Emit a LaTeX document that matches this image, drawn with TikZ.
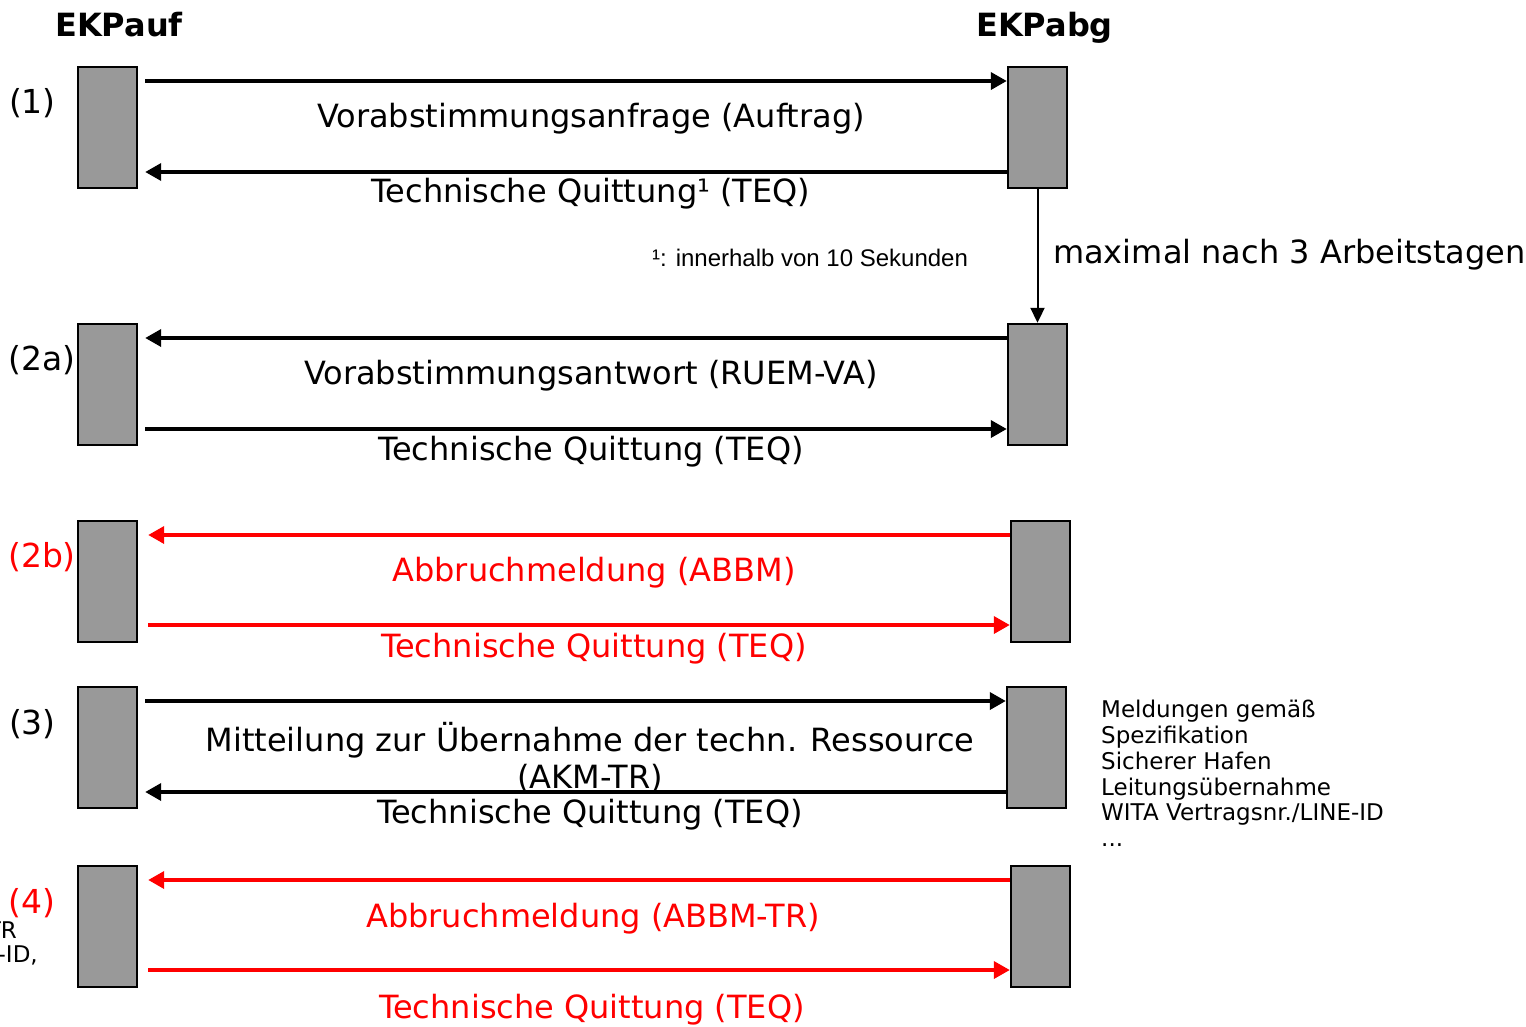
\documentclass[tikz,border=0pt]{standalone}
\usepackage{fontspec}
\setmainfont{DejaVu Sans}
\newfontfamily\arialf{Liberation Sans}
\usetikzlibrary{arrows.meta}
\definecolor{boxgray}{HTML}{999999}
\definecolor{redc}{HTML}{FF0000}
\begin{document}
\begin{tikzpicture}[x=1pt,y=-1pt,
  actbox/.style={draw=black,line width=2.4pt,fill=boxgray,minimum width=59pt,minimum height=121pt,inner sep=0pt},
  msg/.style={line width=3.6pt,-{Triangle[length=16pt,width=17pt]}},
  big/.style={font=\fontsize{32}{37}\selectfont,inner sep=0pt},
  lbl/.style={font=\fontsize{33}{38}\selectfont,inner sep=0pt},
  head/.style={font=\fontsize{32}{37}\selectfont\bfseries,inner sep=0pt,anchor=base},
  small/.style={font=\fontsize{23}{25.8}\selectfont,inner sep=0pt}]
\useasboundingbox (0,0) rectangle (1526,1026);
% headers
\node[head] (hauf) at (119,36) {EKPauf};
\node[head] (habg) at (1044.5,36) {EKPabg};
% boxes
\node[actbox] (L1) at (107.5,127.5) {};
\node[actbox] (R1) at (1037.5,127.5) {};
\node[actbox] (L2a) at (107.5,384.5) {};
\node[actbox] (R2a) at (1037.5,384.5) {};
\node[actbox] (L2b) at (107.5,581.5) {};
\node[actbox] (R2b) at (1040.5,581.5) {};
\node[actbox] (L3) at (107.5,747.5) {};
\node[actbox] (R3) at (1036.5,747.5) {};
\node[actbox] (L4) at (107.5,926.5) {};
\node[actbox] (R4) at (1040.5,926.5) {};
% row labels
\node[lbl] (n1) at (32.5,103) {(1)};
\node[lbl] (n2a) at (42,360) {(2a)};
\node[lbl,text=redc] (n2b) at (42,557) {(2b)};
\node[lbl] (n3) at (32.5,724) {(3)};
\node[lbl,text=redc] (n4) at (32,903) {(4)};
% cut-off text at left edge
\node[small,anchor=east] (cutA) at (17,930) {TR};
\node[small,anchor=east] (cutB) at (38,955) {-ID,};
% row 1
\draw[msg] ([xshift=7pt,yshift=46.5pt]L1.east) -- ([yshift=46.5pt]R1.west);
\draw[msg] ([yshift=-44.5pt]R1.west) -- ([xshift=7pt,yshift=-44.5pt]L1.east);
\node[big] (t1a) at (591,119) {Vorabstimmungsanfrage (Auftrag)};
\node[big] (t1b) at (591,194) {Technische Quittung¹ (TEQ)};
\node[font=\arialf\fontsize{24}{28}\selectfont,inner sep=0pt,anchor=west] (fn) at (652,258) {¹: innerhalb von 10 Sekunden};
% vertical
\draw[line width=2pt,-{Triangle[length=15pt,width=14pt]}] (R1.south) -- (R2a.north);
\node[big,anchor=west] (max) at (1053,255) {maximal nach 3 Arbeitstagen};
% row 2a
\draw[msg] ([yshift=46.5pt]R2a.west) -- ([xshift=7pt,yshift=46.5pt]L2a.east);
\draw[msg] ([xshift=7pt,yshift=-44.5pt]L2a.east) -- ([yshift=-44.5pt]R2a.west);
\node[big] (t2a) at (591,376) {Vorabstimmungsantwort (RUEM-VA)};
\node[big] (t2b) at (591,452) {Technische Quittung (TEQ)};
% row 2b
\draw[msg,redc] ([yshift=46.5pt]R2b.west) -- ([xshift=10pt,yshift=46.5pt]L2b.east);
\draw[msg,redc] ([xshift=10pt,yshift=-43.5pt]L2b.east) -- ([yshift=-43.5pt]R2b.west);
\node[big,text=redc] (t3a) at (594,573) {Abbruchmeldung (ABBM)};
\node[big,text=redc] (t3b) at (594,649) {Technische Quittung (TEQ)};
% row 3
\draw[msg] ([xshift=7pt,yshift=46.5pt]L3.east) -- ([yshift=46.5pt]R3.west);
\draw[msg] ([yshift=-44.5pt]R3.west) -- ([xshift=7pt,yshift=-44.5pt]L3.east);
\node[big] (t4a) at (590,740) {Mitteilung zur Übernahme der techn. Ressource};
\node[big] (t4b) at (590,778) {(AKM-TR)};
\node[big] (t4c) at (590,815) {Technische Quittung (TEQ)};
\node[small,align=left,anchor=north west] (notes) at (1101,700) {Meldungen gemäß\\Spezifikation\\Sicherer Hafen\\Leitungsübernahme\\WITA Vertragsnr./LINE-ID\\...};
% row 4
\draw[msg,redc] ([yshift=46.5pt]R4.west) -- ([xshift=10pt,yshift=46.5pt]L4.east);
\draw[msg,redc] ([xshift=10pt,yshift=-43.5pt]L4.east) -- ([yshift=-43.5pt]R4.west);
\node[big,text=redc] (t5a) at (593,919) {Abbruchmeldung (ABBM-TR)};
\node[big,text=redc] (t5b) at (592,1010) {Technische Quittung (TEQ)};
\end{tikzpicture}
\end{document}
